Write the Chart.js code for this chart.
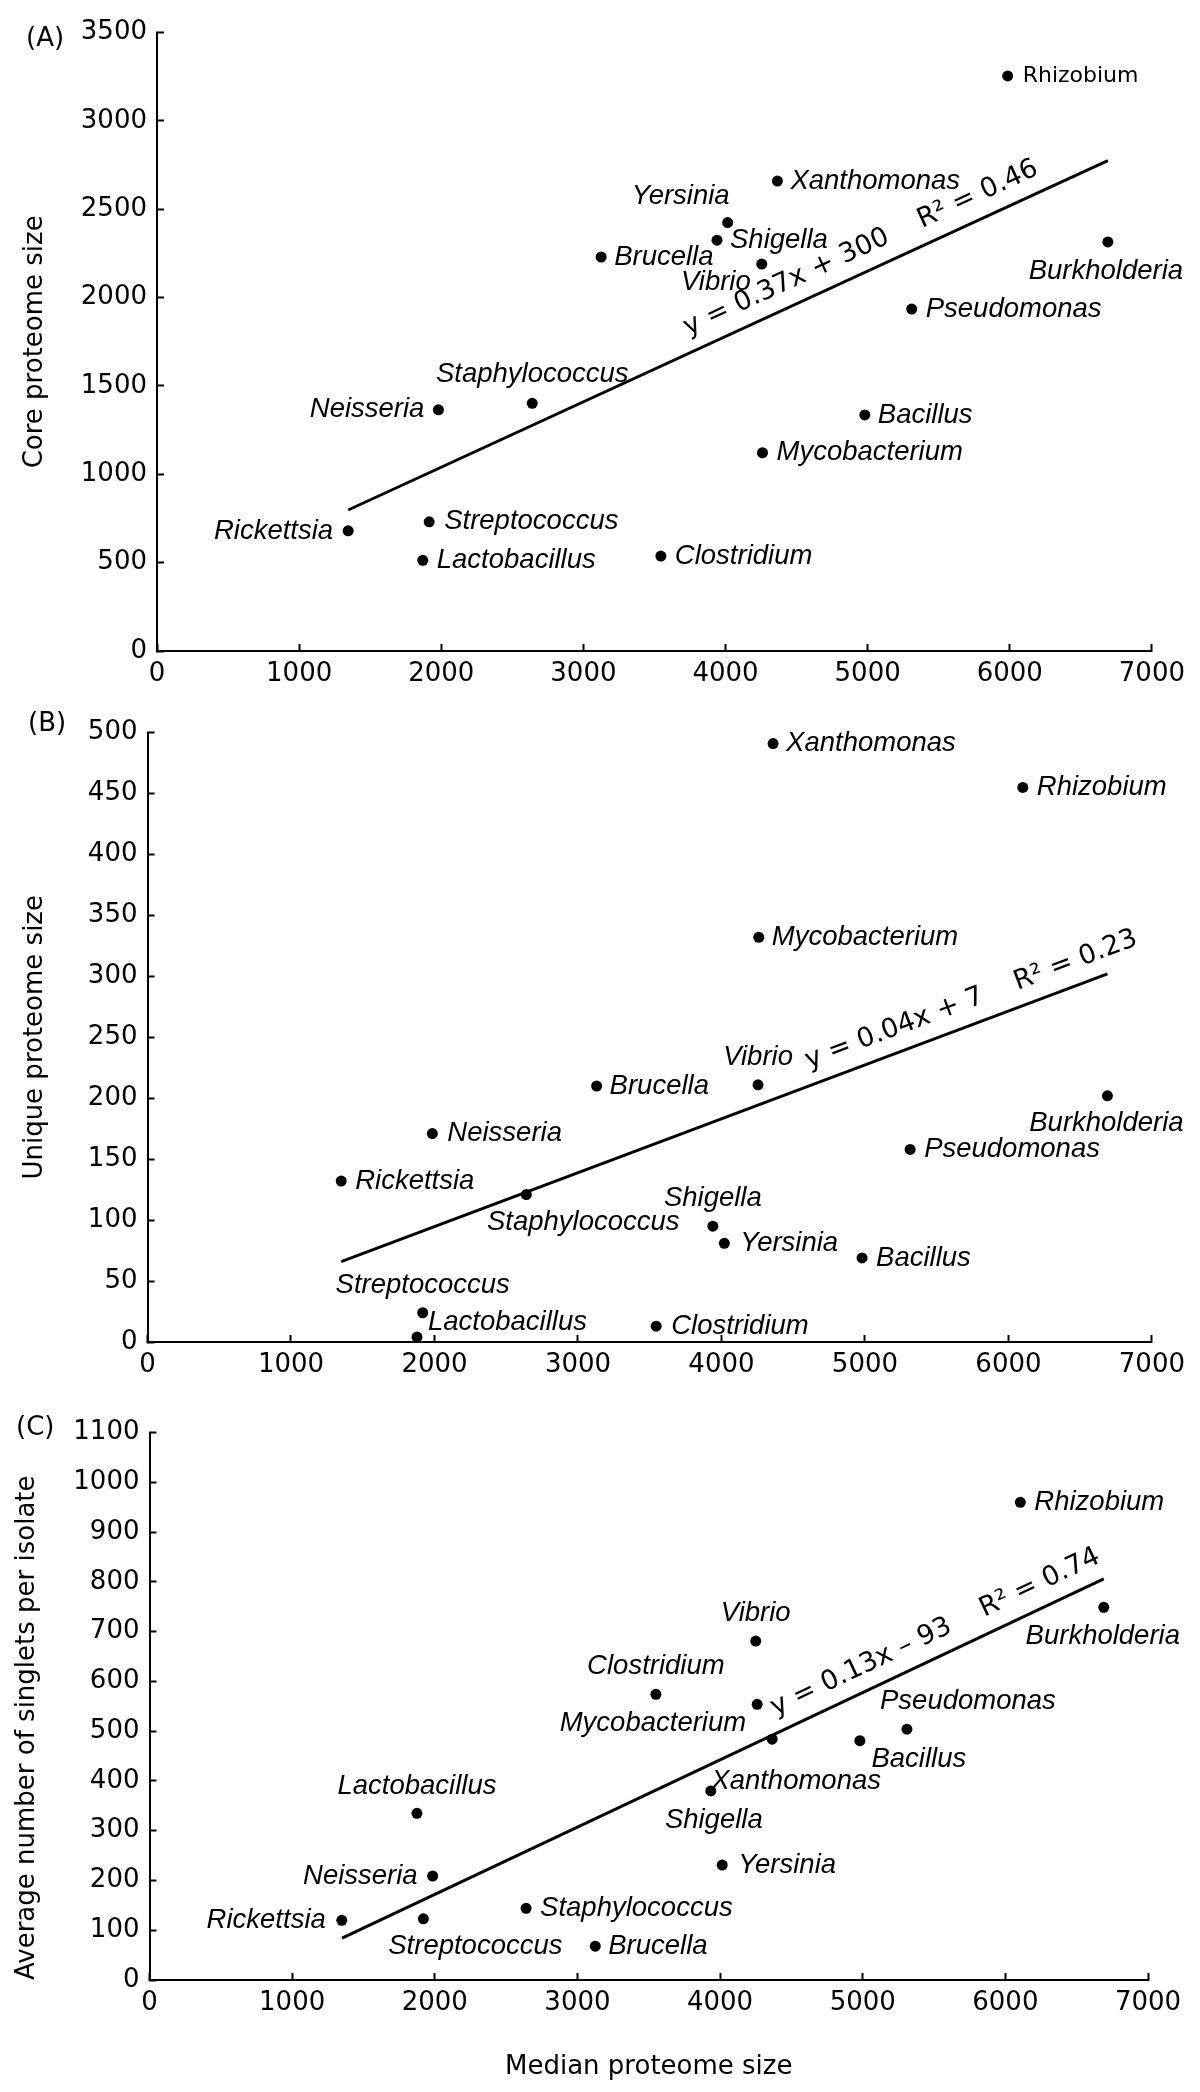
<!DOCTYPE html>
<html>
<head>
<meta charset="utf-8">
<title>Core, unique and singleton proteome size vs median proteome size</title>
<script src="https://cdn.jsdelivr.net/npm/chart.js@4.4.0/dist/chart.umd.min.js"></script>
<style>
  body { margin: 0; background: #fff; }
  #page { position: relative; width: 1200px; height: 2092px; overflow: hidden; }
  canvas { position: absolute; left: 0; }
  .tag { position: absolute; font-family: "DejaVu Sans"; font-size: 26px; line-height: 30px; color: #000; }
</style>
</head>
<body>
<div id="page">
  <canvas id="chartA" width="1200" height="700" style="top:0px"></canvas>
  <canvas id="chartB" width="1200" height="700" style="top:700px"></canvas>
  <canvas id="chartC" width="1200" height="692" style="top:1400px"></canvas>
  <div class="tag" style="left:26px;top:22px">(A)</div>
  <div class="tag" style="left:28px;top:707px">(B)</div>
  <div class="tag" style="left:16px;top:1411px">(C)</div>
</div>
<script>
var genera = ['Rhizobium', 'Xanthomonas', 'Yersinia', 'Shigella', 'Brucella', 'Vibrio',
  'Burkholderia', 'Pseudomonas', 'Staphylococcus', 'Neisseria', 'Bacillus',
  'Mycobacterium', 'Streptococcus', 'Rickettsia', 'Lactobacillus', 'Clostridium'];

// (A) core proteome
var coreX = [5985, 4365, 4015, 3940, 3125, 4255, 6690, 5310, 2640, 1980, 4980, 4260, 1915, 1345, 1870, 3545];
var coreY = [3255, 2660, 2425, 2325, 2230, 2190, 2315, 1935, 1402, 1365, 1336, 1122, 731, 680, 513, 537];
var coreFitX = [1345, 6690];
var coreFitY = [798, 2775];

// (B) unique proteome
var uniqueX = [6100, 4360, 4020, 3940, 3130, 4255, 6690, 5315, 2640, 1985, 4980, 4260, 1918, 1350, 1878, 3545];
var uniqueY = [455, 491, 81, 95, 210, 211, 202, 158, 121, 171, 69, 332, 24, 132, 4, 13];
var uniqueFitX = [1350, 6690];
var uniqueFitY = [66, 302];

// (C) singlets per isolate
var singletX = [6105, 4365, 4015, 3935, 3125, 4250, 6690, 5310, 2640, 1985, 4980, 4260, 1920, 1348, 1875, 3550];
var singletY = [960, 484, 231, 380, 68, 681, 749, 504, 144, 209, 481, 554, 123, 120, 335, 574];
var singletFitX = [1350, 6690];
var singletFitY = [84, 806];

var xTicks = [0, 1000, 2000, 3000, 4000, 5000, 6000, 7000];
var coreTicks = [0, 500, 1000, 1500, 2000, 2500, 3000, 3500];
var uniqueTicks = [0, 50, 100, 150, 200, 250, 300, 350, 400, 450, 500];
var singletTicks = [0, 100, 200, 300, 400, 500, 600, 700, 800, 900, 1000, 1100];

var coreEq = 'y = 0.37x + 300    R\u00B2 = 0.46';
var uniqueEq = 'y = 0.04x + 7    R\u00B2 = 0.23';
var singletEq = 'y = 0.13x \u2013 93    R\u00B2 = 0.74';

// label placement: [dx, dy, align] relative to the dot
var placeA = [[15,0,'left'],[13,0,'left'],[2,-26,'right'],[13,0,'left'],[13,0,'left'],[-11,18,'right'],
  [-2,29,'center'],[14,0,'left'],[0,-29,'center'],[-14,0,'right'],[13,0,'left'],
  [14,0,'left'],[15,0,'left'],[-15,0,'right'],[14,0,'left'],[14,0,'left']];
var placeB = [[14,0,'left'],[13,0,'left'],[16,0,'left'],[0,-28,'center'],[13,0,'left'],[0,-27,'center'],
  [-1,28,'center'],[14,0,'left'],[57,28,'center'],[15,0,'left'],[14,0,'left'],
  [13,0,'left'],[0,-27,'center'],[14,0,'left'],[11,-15,'left'],[15,0,'left']];
var placeC = [[14,0,'left'],[24,42,'center'],[16,0,'left'],[3,29,'center'],[13,0,'left'],[0,-28,'center'],
  [-1,29,'center'],[61,-28,'center'],[14,0,'left'],[-15,0,'right'],[59,19,'center'],
  [-11,19,'right'],[52,28,'center'],[-16,0,'right'],[0,-27,'center'],[0,-28,'center']];

Chart.defaults.font.family = '"DejaVu Sans"';
Chart.defaults.color = '#000';

var italicFont = 'italic 27.5px "Liberation Sans"';

function labelsPlugin(place, eq, eqAt, fonts) {
  return {
    id: 'genusLabels',
    afterDatasetsDraw: function(chart) {
      var ctx = chart.ctx;
      var pts = chart.getDatasetMeta(0).data;
      ctx.save();
      ctx.fillStyle = '#000';
      ctx.textBaseline = 'middle';
      pts.forEach(function(p, i) {
        var pl = place[i];
        ctx.font = (fonts && fonts[i]) || italicFont;
        ctx.textAlign = pl[2];
        ctx.fillText(genera[i], p.x + pl[0], p.y + pl[1]);
      });
      // regression equation along the fitted line
      var line = chart.getDatasetMeta(1).data;
      var a = line[0], b = line[1];
      var ang = Math.atan2(b.y - a.y, b.x - a.x);
      var px = chart.scales.x.getPixelForValue(eqAt);
      var py = a.y + (px - a.x) * (b.y - a.y) / (b.x - a.x);
      ctx.translate(px, py);
      ctx.rotate(ang);
      ctx.font = '27px "DejaVu Sans"';
      ctx.textAlign = 'left';
      ctx.textBaseline = 'alphabetic';
      ctx.fillText(eq, 0, -16.5);
      ctx.restore();
    }
  };
}

function makeChart(id, xs, ys, fitX, fitY, yTicks, o) {
  var pts = xs.map(function(x, i) { return { x: x, y: ys[i] }; });
  var fit = fitX.map(function(x, i) { return { x: x, y: fitY[i] }; });
  var tickLabel = function(v) { return String(v); };
  return new Chart(document.getElementById(id).getContext('2d'), {
    type: 'scatter',
    data: {
      datasets: [{
        data: pts,
        pointRadius: 5.5,
        pointHoverRadius: 5.5,
        backgroundColor: '#000',
        borderWidth: 0,
        clip: false
      }, {
        data: fit,
        showLine: true,
        borderColor: '#000',
        borderWidth: 3,
        pointRadius: 0,
        pointHoverRadius: 0,
        fill: false,
        clip: false
      }]
    },
    options: {
      responsive: false,
      animation: false,
      devicePixelRatio: 1,
      events: [],
      layout: { padding: o.padding },
      plugins: { legend: { display: false }, tooltip: { enabled: false } },
      scales: {
        x: {
          type: 'linear',
          min: xTicks[0],
          max: xTicks[xTicks.length - 1],
          afterBuildTicks: function(s) { s.ticks = xTicks.map(function(v) { return { value: v }; }); },
          afterFit: function(s) { s.height = o.xHeight; },
          ticks: { font: { size: 26 }, color: '#000', padding: 15, maxRotation: 0, autoSkip: false, callback: tickLabel },
          grid: { drawOnChartArea: false, drawTicks: true, tickLength: -7, tickWidth: 2, tickColor: '#000' },
          border: { color: '#000', width: 2 },
          title: o.xTitle ? { display: true, text: o.xTitle, font: { size: 26 }, color: '#000', padding: { top: 0, bottom: 9 } } : { display: false }
        },
        y: {
          type: 'linear',
          min: yTicks[0],
          max: yTicks[yTicks.length - 1],
          afterBuildTicks: function(s) { s.ticks = yTicks.map(function(v) { return { value: v }; }); },
          afterFit: function(s) { s.width = o.yWidth; },
          ticks: { font: { size: 26 }, color: '#000', padding: 17, autoSkip: false, callback: tickLabel },
          grid: { drawOnChartArea: false, drawTicks: true, tickLength: -7, tickWidth: 2, tickColor: '#000' },
          border: { color: '#000', width: 2 },
          title: { display: true, text: o.yTitle, align: o.yTitleAlign || 'center', font: { size: 26 }, color: '#000', padding: { top: o.yTitlePad, bottom: 0 } }
        }
      }
    },
    plugins: [labelsPlugin(o.place, o.eq, o.eqAt, o.fonts)]
  });
}

makeChart('chartA', coreX, coreY, coreFitX, coreFitY, coreTicks, {
  padding: { top: 25, right: 44, left: 0, bottom: 0 },
  yWidth: 157, xHeight: 49, yTitle: 'Core proteome size', yTitlePad: 20,
  place: placeA, eq: coreEq, eqAt: 3785, fonts: { 0: '22px "DejaVu Sans"' }
});

makeChart('chartB', uniqueX, uniqueY, uniqueFitX, uniqueFitY, uniqueTicks, {
  padding: { top: 16, right: 43, left: 0, bottom: 0 },
  yWidth: 147.5, xHeight: 58, yTitle: 'Unique proteome size', yTitlePad: 20,
  place: placeB, eq: uniqueEq, eqAt: 4648
});

makeChart('chartC', singletX, singletY, singletFitX, singletFitY, singletTicks, {
  padding: { top: 16, right: 52, left: 0, bottom: 0 },
  yWidth: 149.5, xHeight: 112, yTitle: 'Average number of singlets per isolate', yTitlePad: 12,
  yTitleAlign: 'start',
  xTitle: 'Median proteome size',
  place: placeC, eq: singletEq, eqAt: 4436
});
</script>
</body>
</html>
